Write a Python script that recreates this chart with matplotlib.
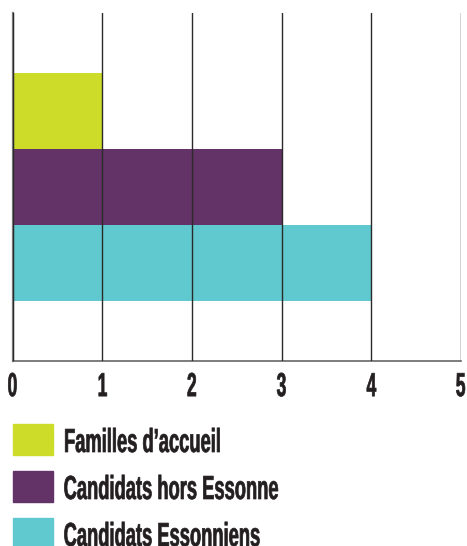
import matplotlib
matplotlib.use('Agg')
import matplotlib.pyplot as plt
from matplotlib.patches import Rectangle
from matplotlib.patheffects import AbstractPathEffect
from matplotlib.transforms import Affine2D, ScaledTranslation

# =============================================================================
# Data
# =============================================================================
labels = ['Candidats Essonniens', 'Candidats hors Essonne', "Familles d\u2019accueil"]
values = [4, 3, 1]
colors = ['#60c9cf', '#633266', '#cddc29']
xticks = [0, 1, 2, 3, 4, 5]

plt.rcParams['font.family'] = ['Liberation Sans', 'DejaVu Sans']
W, H = 467, 546
TXT = '#231f20'


class Condense(AbstractPathEffect):
    """Squeeze text horizontally (no condensed font installed)."""
    def __init__(self, sx, anchor='left', stroke=0.0):
        super().__init__()
        self.sx = sx
        self.anchor = anchor
        self.stroke = stroke

    def draw_path(self, renderer, gc, tpath, affine, rgbFace=None):
        ext = tpath.transformed(affine).get_extents()
        x0 = {'left': ext.x0, 'right': ext.x1}.get(self.anchor, 0.5 * (ext.x0 + ext.x1))
        aff = affine + Affine2D().translate(-x0, 0).scale(self.sx, 1).translate(x0, 0)
        gc0 = renderer.new_gc()
        gc0.copy_properties(gc)
        if self.stroke > 0 and rgbFace is not None:
            gc0.set_foreground(rgbFace)
            gc0.set_linewidth(self.stroke)
        renderer.draw_path(gc0, tpath, aff, rgbFace)
        gc0.restore()


# =============================================================================
# Plot
# =============================================================================
fig = plt.figure(figsize=(W / 100, H / 100), dpi=100)
ax = fig.add_axes([12.5 / W, 1 - 361 / H, (461 - 12.5) / W, (361 - 13) / H])

ypos = list(range(len(values)))
ax.barh(ypos, values, height=1.0, color=colors, zorder=1)

ax.set_xlim(0, 5)
ax.set_ylim(-1.29, 3.29)
ax.set_xticks(xticks)
ax.set_xticklabels([str(t) for t in xticks], fontsize=24, fontweight='bold', color=TXT)
ax.set_yticks([])
ax.tick_params(axis='x', length=0, pad=8)
ticklabels = ax.get_xticklabels()
for lbl in ticklabels[:-1]:
    lbl.set_path_effects([Condense(0.52, 'center', 0.5)])
# last label sits flush with the right edge
last = ticklabels[-1]
last.set_horizontalalignment('right')
last.set_transform(last.get_transform() + ScaledTranslation(5 / 100, 0, fig.dpi_scale_trans))
last.set_path_effects([Condense(0.52, 'right', 0.5)])

ax.grid(True, axis='x', color='#2a2a2a', lw=1.0, zorder=2)
ax.set_axisbelow(False)

for s in ['top', 'right']:
    ax.spines[s].set_visible(False)
ax.spines['left'].set_color('#777777')
ax.spines['left'].set_linewidth(1.6)
ax.spines['bottom'].set_color('#666666')
ax.spines['bottom'].set_linewidth(1.2)

# legend (top to bottom: green, purple, teal)
for i, k in enumerate(reversed(ypos)):
    top = 424 + 47 * i
    fig.patches.append(Rectangle((13 / W, 1 - (top + 31) / H), 40 / W, 31 / H,
                                 transform=fig.transFigure, color=colors[k]))
    t = fig.text(63 / W, 1 - (top + 28) / H, labels[k], fontsize=24,
                 fontweight='bold', color=TXT, ha='left', va='baseline')
    t.set_path_effects([Condense(0.55, 'left', 0.5)])

fig.savefig('out.png', dpi=100)
